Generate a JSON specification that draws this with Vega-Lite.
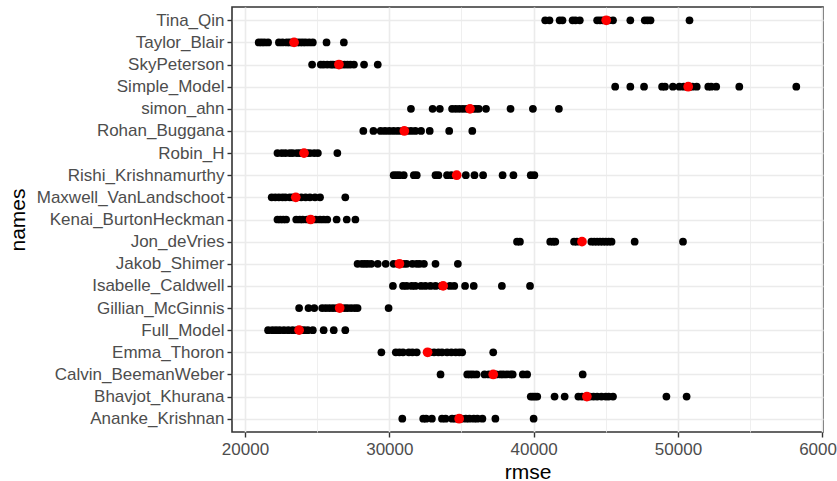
{
  "$schema": "https://vega.github.io/schema/vega-lite/v6.json",
  "autosize": "none",
  "width": 591,
  "height": 425,
  "padding": {"left": 232, "top": 7, "right": 14, "bottom": 49},
  "background": "white",
  "config": {
    "font": "Liberation Sans",
    "view": {"stroke": "#333333", "strokeWidth": 1.6},
    "axis": {
      "domain": false,
      "gridColor": "#EBEBEB",
      "tickColor": "#333333",
      "tickWidth": 1.4,
      "tickSize": 5,
      "labelColor": "#4D4D4D",
      "labelFontSize": 17,
      "labelFont": "Liberation Sans",
      "labelLimit": 0,
      "labelFlush": false,
      "labelOverlap": false,
      "titleFont": "Liberation Sans",
      "titleFontSize": 21,
      "titleFontWeight": "normal",
      "titleColor": "#000000"
    }
  },
  "datasets": {
    "folds": [
      {"names":"Tina_Qin","rmse":40800},{"names":"Tina_Qin","rmse":41100},{"names":"Tina_Qin","rmse":41800},{"names":"Tina_Qin","rmse":42000},{"names":"Tina_Qin","rmse":42700},{"names":"Tina_Qin","rmse":42900},{"names":"Tina_Qin","rmse":43200},{"names":"Tina_Qin","rmse":44400},{"names":"Tina_Qin","rmse":44600},{"names":"Tina_Qin","rmse":44800},{"names":"Tina_Qin","rmse":45200},{"names":"Tina_Qin","rmse":45500},{"names":"Tina_Qin","rmse":46700},{"names":"Tina_Qin","rmse":47700},{"names":"Tina_Qin","rmse":47900},{"names":"Tina_Qin","rmse":48100},{"names":"Tina_Qin","rmse":50800},
      {"names":"Taylor_Blair","rmse":20950},{"names":"Taylor_Blair","rmse":21150},{"names":"Taylor_Blair","rmse":21350},{"names":"Taylor_Blair","rmse":21600},{"names":"Taylor_Blair","rmse":22350},{"names":"Taylor_Blair","rmse":22600},{"names":"Taylor_Blair","rmse":22900},{"names":"Taylor_Blair","rmse":23100},{"names":"Taylor_Blair","rmse":23300},{"names":"Taylor_Blair","rmse":23600},{"names":"Taylor_Blair","rmse":23800},{"names":"Taylor_Blair","rmse":24000},{"names":"Taylor_Blair","rmse":24200},{"names":"Taylor_Blair","rmse":24450},{"names":"Taylor_Blair","rmse":24700},{"names":"Taylor_Blair","rmse":25650},{"names":"Taylor_Blair","rmse":26850},
      {"names":"SkyPeterson","rmse":24650},{"names":"SkyPeterson","rmse":25250},{"names":"SkyPeterson","rmse":25450},{"names":"SkyPeterson","rmse":25700},{"names":"SkyPeterson","rmse":25950},{"names":"SkyPeterson","rmse":26100},{"names":"SkyPeterson","rmse":26300},{"names":"SkyPeterson","rmse":26500},{"names":"SkyPeterson","rmse":26700},{"names":"SkyPeterson","rmse":26900},{"names":"SkyPeterson","rmse":27100},{"names":"SkyPeterson","rmse":27300},{"names":"SkyPeterson","rmse":27550},{"names":"SkyPeterson","rmse":28250},{"names":"SkyPeterson","rmse":29200},
      {"names":"Simple_Model","rmse":45650},{"names":"Simple_Model","rmse":46700},{"names":"Simple_Model","rmse":47650},{"names":"Simple_Model","rmse":48900},{"names":"Simple_Model","rmse":49100},{"names":"Simple_Model","rmse":49650},{"names":"Simple_Model","rmse":50100},{"names":"Simple_Model","rmse":50400},{"names":"Simple_Model","rmse":50800},{"names":"Simple_Model","rmse":51000},{"names":"Simple_Model","rmse":51300},{"names":"Simple_Model","rmse":52100},{"names":"Simple_Model","rmse":52300},{"names":"Simple_Model","rmse":52650},{"names":"Simple_Model","rmse":54250},{"names":"Simple_Model","rmse":58200},
      {"names":"simon_ahn","rmse":31500},{"names":"simon_ahn","rmse":33000},{"names":"simon_ahn","rmse":33500},{"names":"simon_ahn","rmse":34350},{"names":"simon_ahn","rmse":34600},{"names":"simon_ahn","rmse":34850},{"names":"simon_ahn","rmse":35100},{"names":"simon_ahn","rmse":35350},{"names":"simon_ahn","rmse":35800},{"names":"simon_ahn","rmse":36000},{"names":"simon_ahn","rmse":36200},{"names":"simon_ahn","rmse":36700},{"names":"simon_ahn","rmse":38400},{"names":"simon_ahn","rmse":39950},{"names":"simon_ahn","rmse":41750},
      {"names":"Rohan_Buggana","rmse":28200},{"names":"Rohan_Buggana","rmse":28900},{"names":"Rohan_Buggana","rmse":29400},{"names":"Rohan_Buggana","rmse":29700},{"names":"Rohan_Buggana","rmse":30000},{"names":"Rohan_Buggana","rmse":30300},{"names":"Rohan_Buggana","rmse":30600},{"names":"Rohan_Buggana","rmse":30900},{"names":"Rohan_Buggana","rmse":31200},{"names":"Rohan_Buggana","rmse":31500},{"names":"Rohan_Buggana","rmse":31800},{"names":"Rohan_Buggana","rmse":32200},{"names":"Rohan_Buggana","rmse":32800},{"names":"Rohan_Buggana","rmse":34150},{"names":"Rohan_Buggana","rmse":35750},
      {"names":"Robin_H","rmse":22250},{"names":"Robin_H","rmse":22550},{"names":"Robin_H","rmse":22800},{"names":"Robin_H","rmse":23100},{"names":"Robin_H","rmse":23300},{"names":"Robin_H","rmse":23600},{"names":"Robin_H","rmse":23800},{"names":"Robin_H","rmse":24000},{"names":"Robin_H","rmse":24300},{"names":"Robin_H","rmse":24500},{"names":"Robin_H","rmse":24800},{"names":"Robin_H","rmse":25050},{"names":"Robin_H","rmse":26400},
      {"names":"Rishi_Krishnamurthy","rmse":30300},{"names":"Rishi_Krishnamurthy","rmse":30500},{"names":"Rishi_Krishnamurthy","rmse":30700},{"names":"Rishi_Krishnamurthy","rmse":31000},{"names":"Rishi_Krishnamurthy","rmse":31700},{"names":"Rishi_Krishnamurthy","rmse":31900},{"names":"Rishi_Krishnamurthy","rmse":33200},{"names":"Rishi_Krishnamurthy","rmse":33400},{"names":"Rishi_Krishnamurthy","rmse":34000},{"names":"Rishi_Krishnamurthy","rmse":34300},{"names":"Rishi_Krishnamurthy","rmse":35300},{"names":"Rishi_Krishnamurthy","rmse":35900},{"names":"Rishi_Krishnamurthy","rmse":36500},{"names":"Rishi_Krishnamurthy","rmse":37850},{"names":"Rishi_Krishnamurthy","rmse":38600},{"names":"Rishi_Krishnamurthy","rmse":39800},{"names":"Rishi_Krishnamurthy","rmse":40050},
      {"names":"Maxwell_VanLandschoot","rmse":21850},{"names":"Maxwell_VanLandschoot","rmse":22100},{"names":"Maxwell_VanLandschoot","rmse":22350},{"names":"Maxwell_VanLandschoot","rmse":22600},{"names":"Maxwell_VanLandschoot","rmse":22800},{"names":"Maxwell_VanLandschoot","rmse":23100},{"names":"Maxwell_VanLandschoot","rmse":23300},{"names":"Maxwell_VanLandschoot","rmse":23600},{"names":"Maxwell_VanLandschoot","rmse":23900},{"names":"Maxwell_VanLandschoot","rmse":24200},{"names":"Maxwell_VanLandschoot","rmse":24500},{"names":"Maxwell_VanLandschoot","rmse":24850},{"names":"Maxwell_VanLandschoot","rmse":25200},{"names":"Maxwell_VanLandschoot","rmse":26950},
      {"names":"Kenai_BurtonHeckman","rmse":22250},{"names":"Kenai_BurtonHeckman","rmse":22450},{"names":"Kenai_BurtonHeckman","rmse":22650},{"names":"Kenai_BurtonHeckman","rmse":22850},{"names":"Kenai_BurtonHeckman","rmse":23550},{"names":"Kenai_BurtonHeckman","rmse":23800},{"names":"Kenai_BurtonHeckman","rmse":24000},{"names":"Kenai_BurtonHeckman","rmse":24300},{"names":"Kenai_BurtonHeckman","rmse":24600},{"names":"Kenai_BurtonHeckman","rmse":24900},{"names":"Kenai_BurtonHeckman","rmse":25200},{"names":"Kenai_BurtonHeckman","rmse":25450},{"names":"Kenai_BurtonHeckman","rmse":25700},{"names":"Kenai_BurtonHeckman","rmse":26350},{"names":"Kenai_BurtonHeckman","rmse":27050},{"names":"Kenai_BurtonHeckman","rmse":27650},
      {"names":"Jon_deVries","rmse":38850},{"names":"Jon_deVries","rmse":39050},{"names":"Jon_deVries","rmse":41150},{"names":"Jon_deVries","rmse":41350},{"names":"Jon_deVries","rmse":41500},{"names":"Jon_deVries","rmse":42800},{"names":"Jon_deVries","rmse":43000},{"names":"Jon_deVries","rmse":44000},{"names":"Jon_deVries","rmse":44200},{"names":"Jon_deVries","rmse":44400},{"names":"Jon_deVries","rmse":44600},{"names":"Jon_deVries","rmse":44800},{"names":"Jon_deVries","rmse":45000},{"names":"Jon_deVries","rmse":45200},{"names":"Jon_deVries","rmse":45400},{"names":"Jon_deVries","rmse":47000},{"names":"Jon_deVries","rmse":50350},
      {"names":"Jakob_Shimer","rmse":27800},{"names":"Jakob_Shimer","rmse":28100},{"names":"Jakob_Shimer","rmse":28300},{"names":"Jakob_Shimer","rmse":28500},{"names":"Jakob_Shimer","rmse":28750},{"names":"Jakob_Shimer","rmse":29200},{"names":"Jakob_Shimer","rmse":29750},{"names":"Jakob_Shimer","rmse":30300},{"names":"Jakob_Shimer","rmse":30600},{"names":"Jakob_Shimer","rmse":31000},{"names":"Jakob_Shimer","rmse":31200},{"names":"Jakob_Shimer","rmse":31600},{"names":"Jakob_Shimer","rmse":31900},{"names":"Jakob_Shimer","rmse":32100},{"names":"Jakob_Shimer","rmse":32400},{"names":"Jakob_Shimer","rmse":33200},{"names":"Jakob_Shimer","rmse":34750},
      {"names":"Isabelle_Caldwell","rmse":30250},{"names":"Isabelle_Caldwell","rmse":30950},{"names":"Isabelle_Caldwell","rmse":31200},{"names":"Isabelle_Caldwell","rmse":31550},{"names":"Isabelle_Caldwell","rmse":31800},{"names":"Isabelle_Caldwell","rmse":32200},{"names":"Isabelle_Caldwell","rmse":32500},{"names":"Isabelle_Caldwell","rmse":32850},{"names":"Isabelle_Caldwell","rmse":33200},{"names":"Isabelle_Caldwell","rmse":33600},{"names":"Isabelle_Caldwell","rmse":34200},{"names":"Isabelle_Caldwell","rmse":34500},{"names":"Isabelle_Caldwell","rmse":35250},{"names":"Isabelle_Caldwell","rmse":35850},{"names":"Isabelle_Caldwell","rmse":37800},{"names":"Isabelle_Caldwell","rmse":39750},
      {"names":"Gillian_McGinnis","rmse":23750},{"names":"Gillian_McGinnis","rmse":24400},{"names":"Gillian_McGinnis","rmse":24800},{"names":"Gillian_McGinnis","rmse":25350},{"names":"Gillian_McGinnis","rmse":25600},{"names":"Gillian_McGinnis","rmse":25850},{"names":"Gillian_McGinnis","rmse":26100},{"names":"Gillian_McGinnis","rmse":26350},{"names":"Gillian_McGinnis","rmse":26600},{"names":"Gillian_McGinnis","rmse":26900},{"names":"Gillian_McGinnis","rmse":27100},{"names":"Gillian_McGinnis","rmse":27350},{"names":"Gillian_McGinnis","rmse":27600},{"names":"Gillian_McGinnis","rmse":27800},{"names":"Gillian_McGinnis","rmse":29950},
      {"names":"Full_Model","rmse":21600},{"names":"Full_Model","rmse":21900},{"names":"Full_Model","rmse":22150},{"names":"Full_Model","rmse":22400},{"names":"Full_Model","rmse":22700},{"names":"Full_Model","rmse":23000},{"names":"Full_Model","rmse":23300},{"names":"Full_Model","rmse":23600},{"names":"Full_Model","rmse":23900},{"names":"Full_Model","rmse":24100},{"names":"Full_Model","rmse":24350},{"names":"Full_Model","rmse":24700},{"names":"Full_Model","rmse":25450},{"names":"Full_Model","rmse":26150},{"names":"Full_Model","rmse":26950},
      {"names":"Emma_Thoron","rmse":29450},{"names":"Emma_Thoron","rmse":30450},{"names":"Emma_Thoron","rmse":30700},{"names":"Emma_Thoron","rmse":30950},{"names":"Emma_Thoron","rmse":31350},{"names":"Emma_Thoron","rmse":31600},{"names":"Emma_Thoron","rmse":31900},{"names":"Emma_Thoron","rmse":32800},{"names":"Emma_Thoron","rmse":33100},{"names":"Emma_Thoron","rmse":33400},{"names":"Emma_Thoron","rmse":33650},{"names":"Emma_Thoron","rmse":34000},{"names":"Emma_Thoron","rmse":34300},{"names":"Emma_Thoron","rmse":34600},{"names":"Emma_Thoron","rmse":34850},{"names":"Emma_Thoron","rmse":35050},{"names":"Emma_Thoron","rmse":37200},
      {"names":"Calvin_BeemanWeber","rmse":33550},{"names":"Calvin_BeemanWeber","rmse":35400},{"names":"Calvin_BeemanWeber","rmse":35600},{"names":"Calvin_BeemanWeber","rmse":35800},{"names":"Calvin_BeemanWeber","rmse":36050},{"names":"Calvin_BeemanWeber","rmse":36600},{"names":"Calvin_BeemanWeber","rmse":36900},{"names":"Calvin_BeemanWeber","rmse":37400},{"names":"Calvin_BeemanWeber","rmse":37700},{"names":"Calvin_BeemanWeber","rmse":37900},{"names":"Calvin_BeemanWeber","rmse":38150},{"names":"Calvin_BeemanWeber","rmse":38400},{"names":"Calvin_BeemanWeber","rmse":38550},{"names":"Calvin_BeemanWeber","rmse":39250},{"names":"Calvin_BeemanWeber","rmse":39550},{"names":"Calvin_BeemanWeber","rmse":43400},
      {"names":"Bhavjot_Khurana","rmse":39800},{"names":"Bhavjot_Khurana","rmse":39950},{"names":"Bhavjot_Khurana","rmse":40100},{"names":"Bhavjot_Khurana","rmse":40250},{"names":"Bhavjot_Khurana","rmse":41450},{"names":"Bhavjot_Khurana","rmse":42150},{"names":"Bhavjot_Khurana","rmse":43100},{"names":"Bhavjot_Khurana","rmse":43350},{"names":"Bhavjot_Khurana","rmse":43600},{"names":"Bhavjot_Khurana","rmse":43900},{"names":"Bhavjot_Khurana","rmse":44150},{"names":"Bhavjot_Khurana","rmse":44400},{"names":"Bhavjot_Khurana","rmse":44700},{"names":"Bhavjot_Khurana","rmse":45000},{"names":"Bhavjot_Khurana","rmse":45200},{"names":"Bhavjot_Khurana","rmse":45500},{"names":"Bhavjot_Khurana","rmse":49200},{"names":"Bhavjot_Khurana","rmse":50600},
      {"names":"Ananke_Krishnan","rmse":30900},{"names":"Ananke_Krishnan","rmse":32350},{"names":"Ananke_Krishnan","rmse":32550},{"names":"Ananke_Krishnan","rmse":32950},{"names":"Ananke_Krishnan","rmse":33650},{"names":"Ananke_Krishnan","rmse":33900},{"names":"Ananke_Krishnan","rmse":34350},{"names":"Ananke_Krishnan","rmse":34600},{"names":"Ananke_Krishnan","rmse":35000},{"names":"Ananke_Krishnan","rmse":35300},{"names":"Ananke_Krishnan","rmse":35550},{"names":"Ananke_Krishnan","rmse":35850},{"names":"Ananke_Krishnan","rmse":36100},{"names":"Ananke_Krishnan","rmse":36450},{"names":"Ananke_Krishnan","rmse":37350},{"names":"Ananke_Krishnan","rmse":40000}
    ],
    "means": [
      {"names":"Tina_Qin","rmse":45030},{"names":"Taylor_Blair","rmse":23400},{"names":"SkyPeterson","rmse":26510},{"names":"Simple_Model","rmse":50710},{"names":"simon_ahn","rmse":35590},{"names":"Rohan_Buggana","rmse":31040},{"names":"Robin_H","rmse":24090},{"names":"Rishi_Krishnamurthy","rmse":34670},{"names":"Maxwell_VanLandschoot","rmse":23520},{"names":"Kenai_BurtonHeckman","rmse":24550},{"names":"Jon_deVries","rmse":43350},{"names":"Jakob_Shimer","rmse":30700},{"names":"Isabelle_Caldwell","rmse":33730},{"names":"Gillian_McGinnis","rmse":26560},{"names":"Full_Model","rmse":23750},{"names":"Emma_Thoron","rmse":32650},{"names":"Calvin_BeemanWeber","rmse":37200},{"names":"Bhavjot_Khurana","rmse":43690},{"names":"Ananke_Krishnan","rmse":34840}
    ]
  },
  "resolve": {"axis": {"x": "independent"}},
  "layer": [
    {
      "data": {"name": "folds"},
      "mark": {"type": "circle", "color": "#000000", "opacity": 1, "size": 60},
      "encoding": {
        "x": {
          "field": "rmse", "type": "quantitative",
          "scale": {"domain": [19100, 60050], "nice": false, "zero": false},
          "axis": {"orient": "top", "values": [25000, 35000, 45000, 55000], "grid": true, "gridWidth": 0.8, "labels": false, "ticks": false, "domain": false, "title": null}
        },
        "y": {
          "field": "names", "type": "nominal",
          "scale": {"type": "point", "padding": 0.6, "domain": ["Tina_Qin","Taylor_Blair","SkyPeterson","Simple_Model","simon_ahn","Rohan_Buggana","Robin_H","Rishi_Krishnamurthy","Maxwell_VanLandschoot","Kenai_BurtonHeckman","Jon_deVries","Jakob_Shimer","Isabelle_Caldwell","Gillian_McGinnis","Full_Model","Emma_Thoron","Calvin_BeemanWeber","Bhavjot_Khurana","Ananke_Krishnan"]},
          "axis": {"title": "names", "grid": true, "gridWidth": 1.6, "labelPadding": 3, "titlePadding": 8}
        }
      }
    },
    {
      "data": {"name": "means"},
      "mark": {"type": "circle", "color": "#FF0000", "opacity": 1, "size": 95},
      "encoding": {
        "x": {
          "field": "rmse", "type": "quantitative",
          "axis": {"orient": "bottom", "values": [20000, 30000, 40000, 50000, 60000], "format": "d", "grid": true, "gridWidth": 1.6, "labelPadding": 4, "titlePadding": 4, "title": "rmse"}
        },
        "y": {"field": "names", "type": "nominal"}
      }
    }
  ]
}
